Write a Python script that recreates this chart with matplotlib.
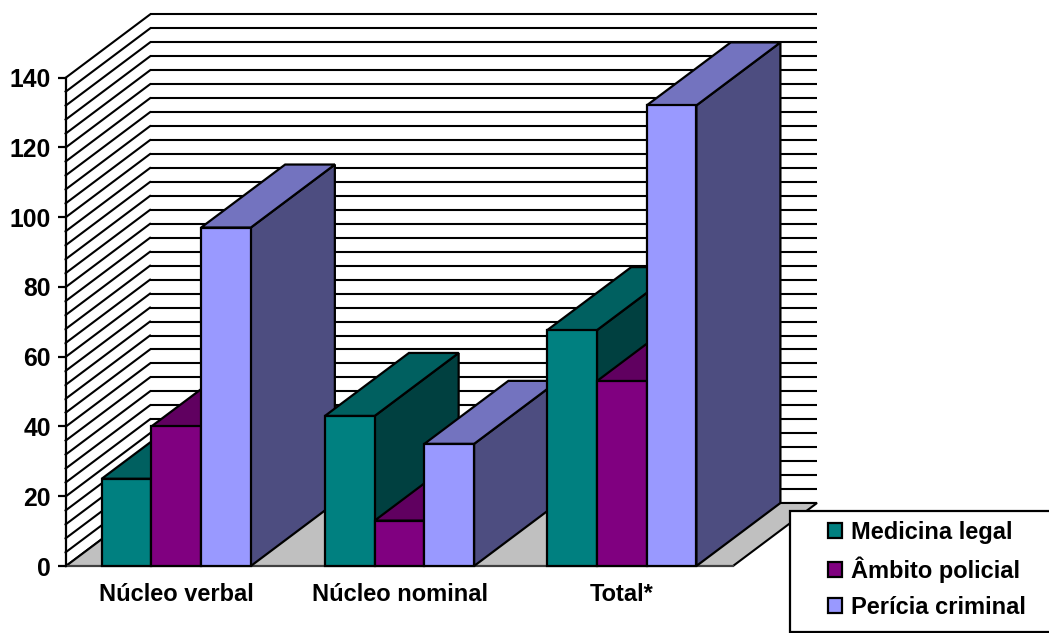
"""Clustered column chart with a hand-built 3D look (oblique projection)."""
import matplotlib

matplotlib.use("Agg")
import matplotlib.pyplot as plt
import numpy as np
from matplotlib.patches import Patch, Polygon, Rectangle

W, H = 1049, 633

categories = ["Núcleo verbal", "Núcleo nominal", "Total*"]
medicina_legal = [25, 43, 67.6]
ambito_policial = [40, 13, 53]
pericia_criminal = [97, 35, 132]
series_names = ["Medicina legal", "Âmbito policial", "Perícia criminal"]

# front, top and side shades for each series
FRONT = ["#008080", "#800080", "#9999FF"]
TOP = ["#006060", "#600060", "#7373BF"]
SIDE = ["#004040", "#400040", "#4D4D80"]

Y_MAX = 140
GROUP_X = [0.496, 1.5, 2.5]
BAR_W = 0.2236
DX = 84 / 222.3  # depth offset, in category units
DY = 63 / 3.489  # depth offset, in value units
LW = 1.6
GRID_LW = 1.5

plt.rcParams["font.family"] = ["Liberation Sans", "DejaVu Sans"]
plt.rcParams["font.weight"] = "bold"

fig = plt.figure(figsize=(W / 100, H / 100), dpi=100)
ax = fig.add_axes([66 / W, 1 - 566 / H, 667 / W, 488.5 / H])
ax.set_xlim(0, 3)
ax.set_ylim(0, Y_MAX)
ax.patch.set_visible(False)
for side in ["top", "right", "bottom"]:
    ax.spines[side].set_visible(False)
ax.spines["left"].set_linewidth(LW)
ax.spines["left"].set_zorder(6)


def face(points, color, z=3, edge="black"):
    ax.add_patch(Polygon(points, closed=True, facecolor=color, edgecolor=edge,
                         linewidth=LW, joinstyle="miter", clip_on=False, zorder=z))


# back wall and side wall rules
for v in np.arange(0, Y_MAX + 1, 4):
    ax.plot([DX, 3 + DX], [v + DY, v + DY], color="black", lw=GRID_LW, clip_on=False, zorder=1,
            solid_capstyle="butt")
    ax.plot([0, DX], [v, v + DY], color="black", lw=GRID_LW, clip_on=False, zorder=1)

# floor
ax.add_patch(Polygon([(0, 0), (DX, DY), (3 + DX, DY), (3, 0)], closed=True, facecolor="#C0C0C0",
                     edgecolor="black", linewidth=GRID_LW, clip_on=False, zorder=2))
ax.plot([0, 3], [0, 0], color="#404040", lw=GRID_LW, clip_on=False, zorder=2.5)

# columns, left to right so each one overlaps the previous side face
for c, centre in enumerate(GROUP_X):
    start = centre - 1.5 * BAR_W
    for s, vals in enumerate([medicina_legal, ambito_policial, pericia_criminal]):
        x0 = start + s * BAR_W
        x1 = x0 + BAR_W
        v = vals[c]
        face([(x1, 0), (x1 + DX, DY), (x1 + DX, v + DY), (x1, v)], SIDE[s])
        face([(x0, v), (x0 + DX, v + DY), (x1 + DX, v + DY), (x1, v)], TOP[s])
        face([(x0, 0), (x0, v), (x1, v), (x1, 0)], FRONT[s])

ax.set_yticks(np.arange(0, Y_MAX + 1, 20))
ax.set_yticks(np.arange(0, Y_MAX + 1, 4), minor=True)
ax.tick_params(axis="y", which="major", length=5.5, width=LW, labelsize=17.8, pad=5.5)
ax.tick_params(axis="y", which="minor", length=1.5, width=1)
ax.set_xticks(GROUP_X)
ax.set_xticklabels(categories)
ax.tick_params(axis="x", length=0, labelsize=17, pad=12)

# legend box runs off the right edge of the figure
fig.add_artist(Rectangle((790 / W, 1 - 632 / H), 300 / W, 121 / H, transform=fig.transFigure,
                         facecolor="white", edgecolor="black", linewidth=LW, zorder=8))
handles = [Patch(facecolor=col, edgecolor="black", linewidth=LW) for col in FRONT]
leg = fig.legend(handles, series_names, loc="upper left", frameon=False, fontsize=17,
                 bbox_to_anchor=(828 / W, 1 - 521 / H), bbox_transform=fig.transFigure,
                 borderaxespad=0, borderpad=0, handlelength=0.6, handleheight=0.6,
                 handletextpad=0.38, labelspacing=0.53)
leg.set_zorder(9)

fig.savefig("out.png", dpi=100)
